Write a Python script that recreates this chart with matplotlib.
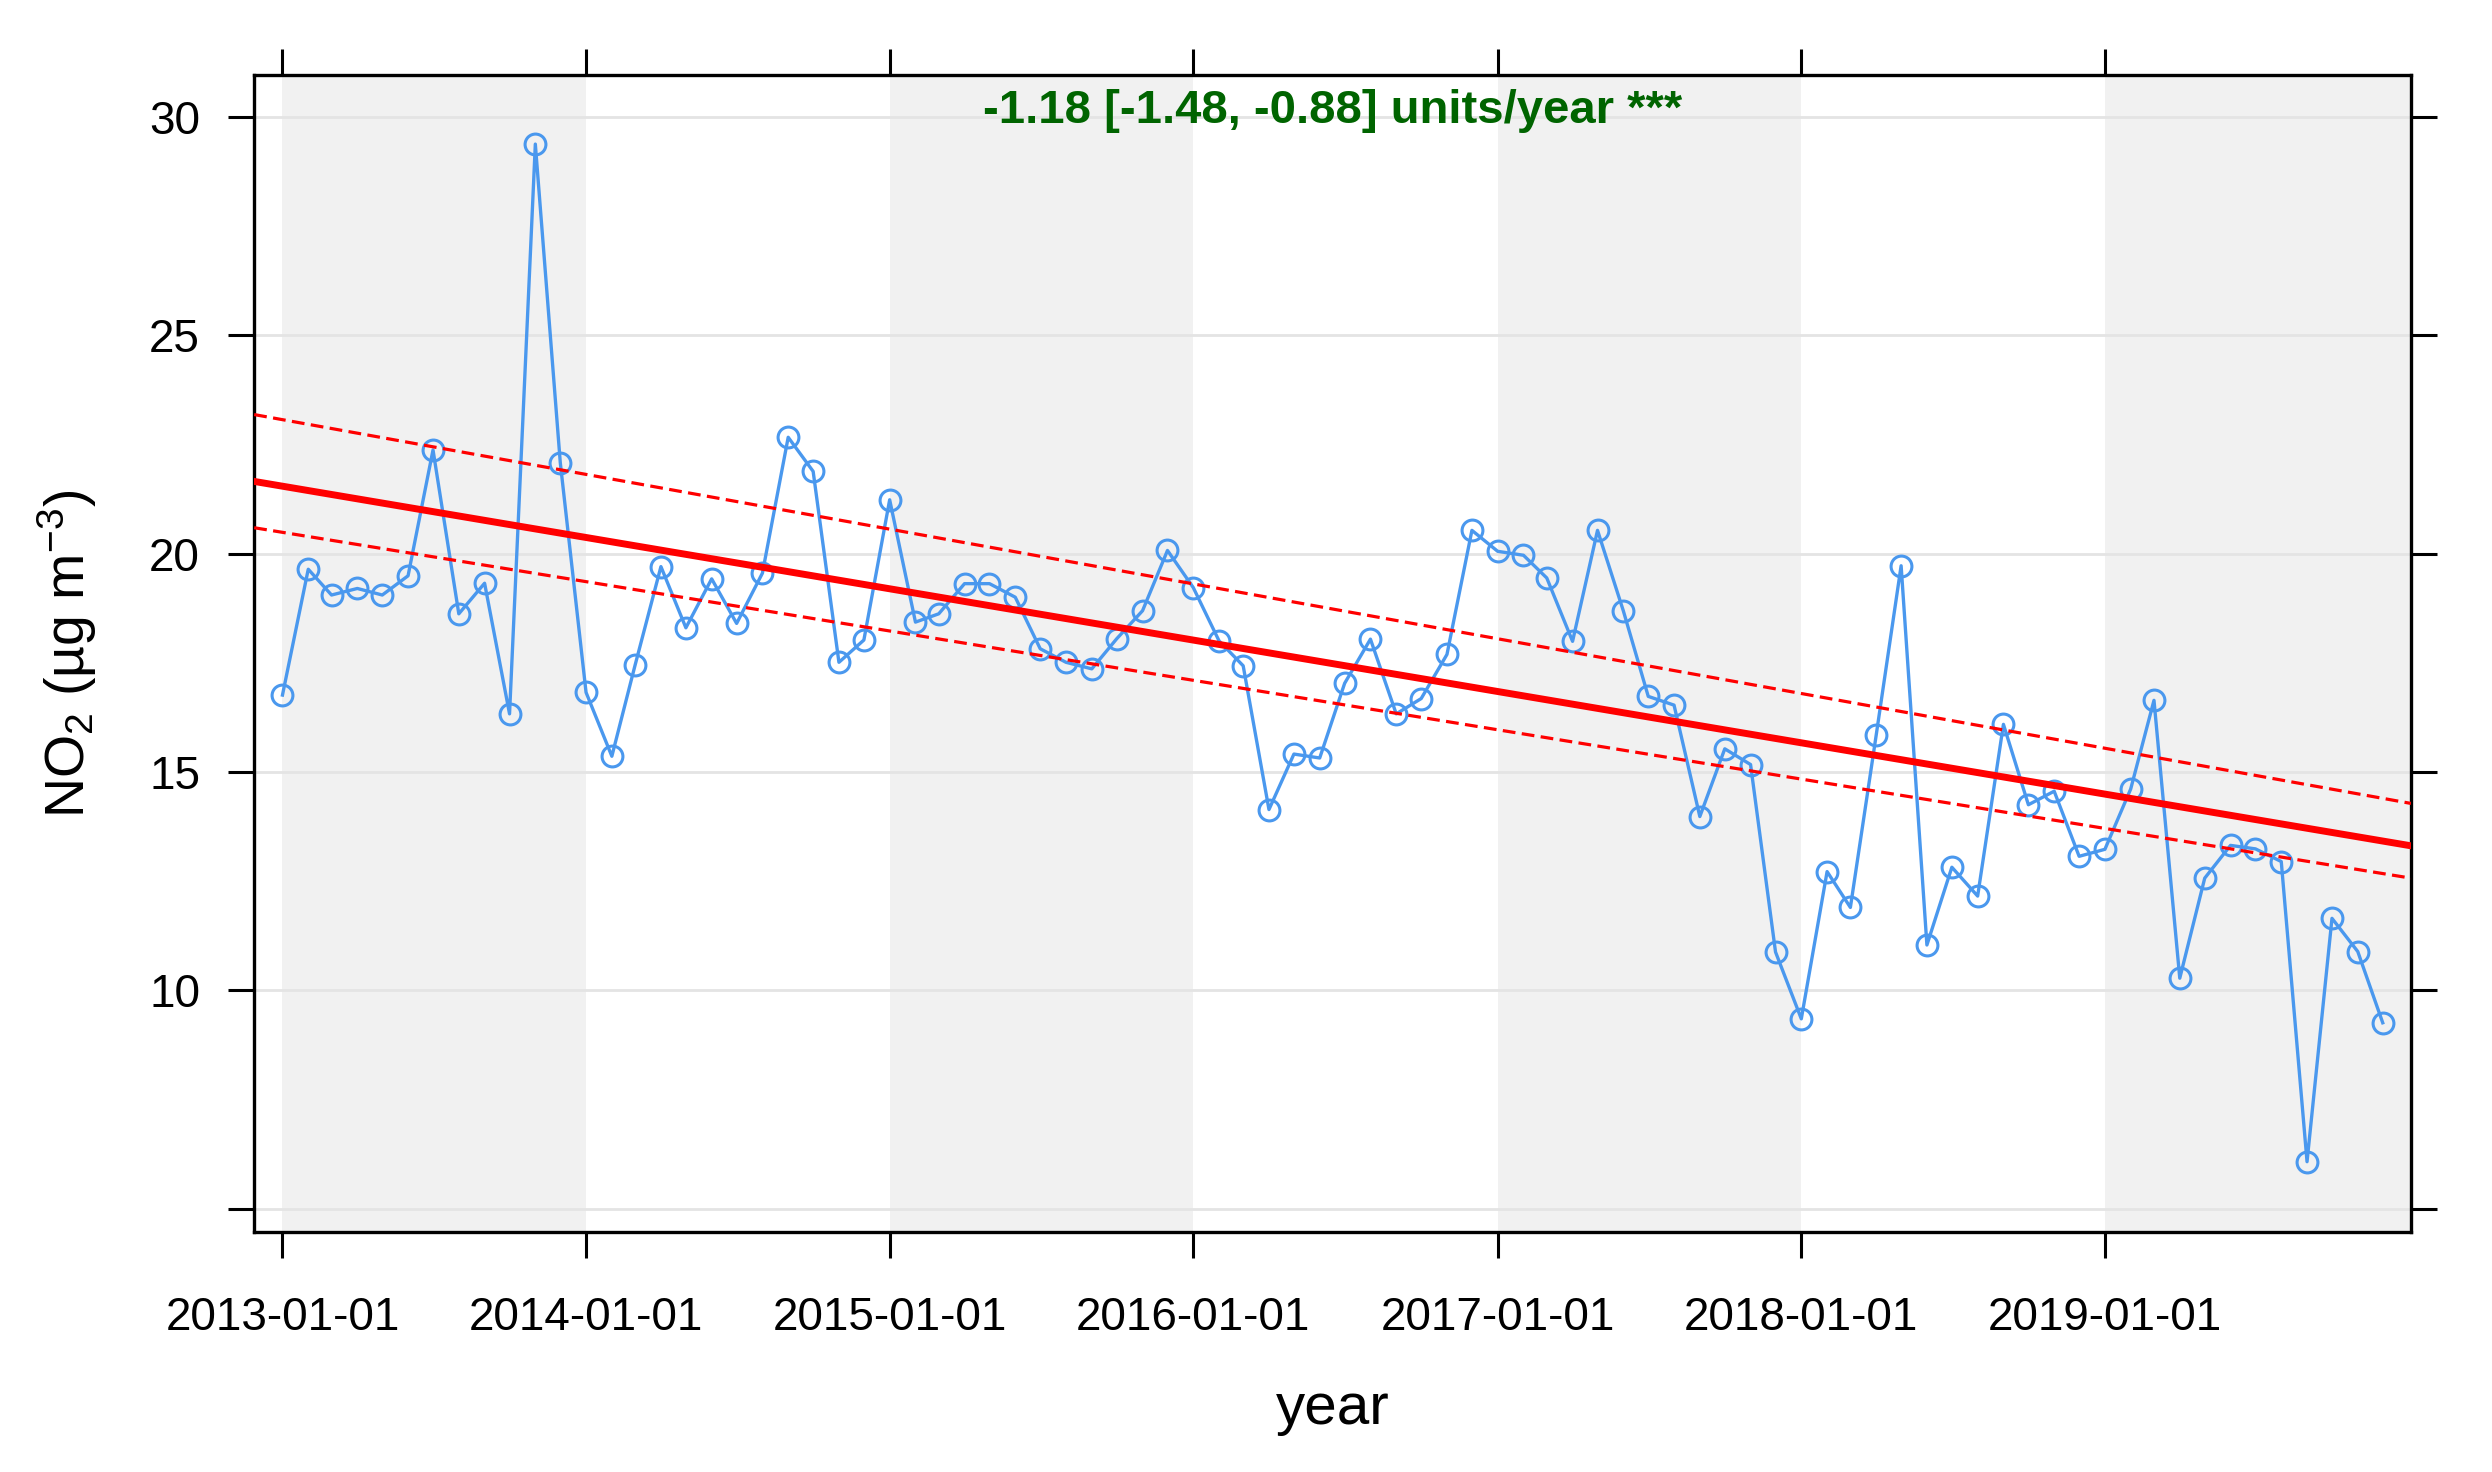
import numpy as np
import pandas as pd
import matplotlib
matplotlib.use("Agg")
import matplotlib.pyplot as plt
import matplotlib.dates as mdates

plt.rcParams['font.family'] = ['Liberation Sans', 'DejaVu Sans']
plt.rcParams['mathtext.fontset'] = 'custom'
plt.rcParams['mathtext.rm'] = 'Liberation Sans'
plt.rcParams['mathtext.default'] = 'regular'

# monthly mean NO2, 2013-01 .. 2019-12
months = pd.date_range("2013-01-01", "2019-12-01", freq="MS")
no2 = [16.76, 19.64, 19.05, 19.2, 19.05, 19.49, 22.37, 18.62, 19.32, 16.33, 29.37, 22.08,
       16.82, 15.36, 17.45, 19.7, 18.3, 19.42, 18.4, 19.55, 22.66, 21.88, 17.51, 18.02,
       21.23, 18.43, 18.62, 19.31, 19.31, 19.0, 17.82, 17.51, 17.36, 18.05, 18.69, 20.07,
       19.22, 18.0, 17.43, 14.14, 15.41, 15.32, 17.03, 18.04, 16.33, 16.68, 17.69, 20.53,
       20.05, 19.96, 19.44, 17.99, 20.53, 18.69, 16.73, 16.53, 13.98, 15.53, 15.17, 10.88,
       9.35, 12.72, 11.9, 15.84, 19.72, 11.04, 12.82, 12.16, 16.09, 14.25, 14.56, 13.07,
       13.23, 14.61, 16.64, 10.28, 12.57, 13.32, 13.24, 12.95, 6.08, 11.65, 10.89, 9.26]

# Theil-Sen trend and its interval, at the two panel edges
trend_x = pd.to_datetime(["2012-11-28", "2020-01-04"])
trend_mid = [21.65, 13.31]
trend_upper = [23.18, 14.28]
trend_lower = [20.59, 12.57]

stripe_years = [2013, 2015, 2017, 2019]
yticks = [5, 10, 15, 20, 25, 30]
ytick_labels = ['', '10', '15', '20', '25', '30']
xtick_years = [2013, 2014, 2015, 2016, 2017, 2018, 2019]
trend_label = "-1.18 [-1.48, -0.88] units/year ***"

fig = plt.figure(figsize=(24.92, 14.72), dpi=100)
ax = fig.add_axes([0.102, 0.163, 0.8655, 0.786])

for yr in stripe_years:
    end = min(pd.Timestamp(f"{yr + 1}-01-01"), trend_x[1])
    if yr == stripe_years[-1]:
        end = trend_x[1]
    ax.axvspan(pd.Timestamp(f"{yr}-01-01"), end, color='#f1f1f1', lw=0, zorder=0)
for yv in yticks:
    ax.axhline(yv, color='#e4e4e4', lw=2, zorder=1)

ax.plot(months, no2, color='#4a98ee', lw=2.4, marker='o', ms=15,
        mfc='none', mec='#4a98ee', mew=2.2, zorder=3)

ax.plot(trend_x, trend_mid, color='red', lw=5, zorder=4)
ax.plot(trend_x, trend_upper, color='red', lw=2.3, ls=(0, (4, 2)), zorder=4)
ax.plot(trend_x, trend_lower, color='red', lw=2.3, ls=(0, (4, 2)), zorder=4)

ax.text(0.5, 0.969, trend_label, transform=ax.transAxes, ha='center', va='center',
        color='darkgreen', fontsize=34, fontweight='bold')

ax.set_xlim(trend_x[0], trend_x[1])
ax.set_ylim(4.47, 30.95)
ax.set_yticks(yticks)
ax.set_yticklabels(ytick_labels)
ax.set_xticks([pd.Timestamp(f"{y}-01-01") for y in xtick_years])
ax.xaxis.set_major_formatter(mdates.DateFormatter("%Y-%m-%d"))

ax.tick_params(direction='out', length=19, width=2.2, labelsize=33,
               top=True, right=True, labeltop=False, labelright=False)
ax.tick_params(axis='x', pad=27)
ax.tick_params(axis='y', pad=20)
for sp in ax.spines.values():
    sp.set_linewidth(2.4)

ax.set_xlabel("year", fontsize=42, labelpad=30)
ax.set_ylabel("NO$_2$ (µg m$^{-3}$)", fontsize=40, labelpad=36)

fig.savefig("out.png", dpi=100)
